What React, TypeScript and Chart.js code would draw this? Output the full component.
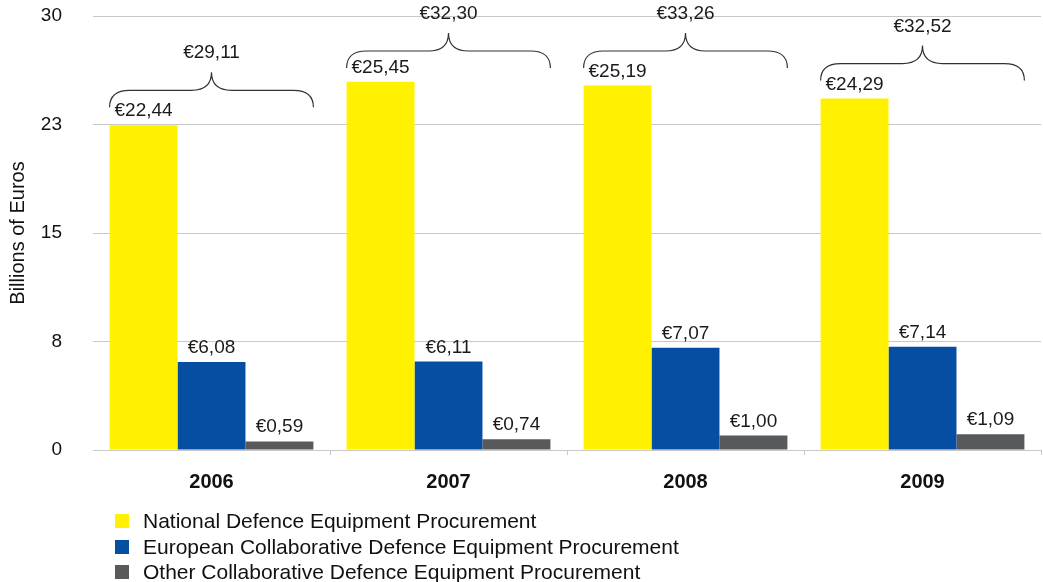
import React, { useEffect, useRef } from "react";
import { Chart, registerables } from "chart.js";

Chart.register(...registerables);

const categories = ["2006", "2007", "2008", "2009"];
const nationalValues = [22.44, 25.45, 25.19, 24.29];
const europeanValues = [6.08, 6.11, 7.07, 7.14];
const otherValues = [0.59, 0.74, 1.0, 1.09];
const seriesNames = [
  "National Defence Equipment Procurement",
  "European Collaborative Defence Equipment Procurement",
  "Other Collaborative Defence Equipment Procurement",
];
const seriesColors = ["#FFF100", "#064EA1", "#58595B"];
const yTickValues = [0, 7.5, 15, 22.5, 30];

const FONT = "'Liberation Sans', Arial, Helvetica, sans-serif";
const fmt = (v: number) => "€" + v.toFixed(2).replace(".", ",");

const labelsPlugin = {
  id: "valueLabels",
  afterDatasetsDraw(chart: any) {
    const ctx = chart.ctx;
    ctx.save();
    ctx.font = `19px ${FONT}`;
    ctx.fillStyle = "#1a1a1a";
    ctx.textAlign = "center";
    ctx.textBaseline = "alphabetic";
    chart.data.datasets.forEach((ds: any, di: number) => {
      const meta = chart.getDatasetMeta(di);
      meta.data.forEach((bar: any, i: number) => {
        ctx.fillText(fmt(ds.data[i]), bar.x, bar.y - 9);
      });
    });

    // braces with totals
    const m0 = chart.getDatasetMeta(0);
    const m2 = chart.getDatasetMeta(2);
    const top = chart.chartArea.top;
    ctx.strokeStyle = "#333";
    ctx.lineWidth = 1.2;
    categories.forEach((_, i) => {
      const b0 = m0.data[i];
      const b2 = m2.data[i];
      const x0 = b0.x - b0.width / 2;
      const x1 = b2.x + b2.width / 2;
      const xm = (x0 + x1) / 2;
      const yE = Math.max(b0.y - 18, top + 52);
      const yH = yE - 17;
      const yT = yH - 18;
      const r = 20;
      ctx.beginPath();
      ctx.moveTo(x0, yE);
      ctx.quadraticCurveTo(x0, yH, x0 + r, yH);
      ctx.lineTo(xm - r, yH);
      ctx.quadraticCurveTo(xm, yH, xm, yT);
      ctx.quadraticCurveTo(xm, yH, xm + r, yH);
      ctx.lineTo(x1 - r, yH);
      ctx.quadraticCurveTo(x1, yH, x1, yE);
      ctx.stroke();
      const total = nationalValues[i] + europeanValues[i] + otherValues[i];
      ctx.fillText(fmt(total), xm, yT - 14);
    });
    ctx.restore();
  },
  afterDraw(chart: any) {
    const ctx = chart.ctx;
    ctx.save();
    ctx.font = `21px ${FONT}`;
    ctx.textAlign = "left";
    ctx.textBaseline = "middle";
    const rows = [521, 547, 572];
    seriesNames.forEach((name, i) => {
      ctx.fillStyle = seriesColors[i];
      ctx.fillRect(115, rows[i] - 7, 14, 14);
      ctx.fillStyle = "#111";
      ctx.fillText(name, 143, rows[i] + 1);
    });
    ctx.restore();
  },
};

export default function App() {
  const ref = useRef<HTMLCanvasElement>(null);
  useEffect(() => {
    if (!ref.current) return;
    const chart = new Chart(ref.current, {
      type: "bar",
      data: {
        labels: categories,
        datasets: [
          { label: seriesNames[0], data: nationalValues, backgroundColor: seriesColors[0] },
          { label: seriesNames[1], data: europeanValues, backgroundColor: seriesColors[1] },
          { label: seriesNames[2], data: otherValues, backgroundColor: seriesColors[2] },
        ],
      },
      options: {
        animation: false,
        responsive: true,
        maintainAspectRatio: false,
        layout: { padding: { top: 16, right: 2, bottom: 82, left: 0 } },
        datasets: { bar: { categoryPercentage: 0.86, barPercentage: 1 } },
        plugins: { legend: { display: false }, tooltip: { enabled: false } },
        scales: {
          x: {
            grid: {
              display: true,
              drawOnChartArea: false,
              drawTicks: true,
              tickLength: 5,
              color: (c: any) =>
                c.index === 0 || c.index >= categories.length ? "rgba(0,0,0,0)" : "#c8c8c8",
            },
            border: { display: true, color: "#c8c8c8" },
            ticks: {
              font: { family: FONT, size: 20, weight: "bold" },
              color: "#111",
              padding: 15,
            },
            afterFit: (s: any) => {
              s.height = 50;
            },
          },
          y: {
            min: 0,
            max: 30,
            afterBuildTicks: (s: any) => {
              s.ticks = yTickValues.map((v) => ({ value: v }));
            },
            grid: {
              color: "#c8c8c8",
              drawTicks: true,
              tickLength: 31,
              tickColor: "rgba(0,0,0,0)",
            },
            border: { display: false },
            ticks: {
              font: { family: FONT, size: 19 },
              color: "#111",
              padding: 0,
              callback: (v: any) => String(Math.round(Number(v))),
            },
            title: {
              display: true,
              text: "Billions of Euros",
              font: { family: FONT, size: 20 },
              color: "#111",
              padding: { top: 6, bottom: 0 },
            },
            afterFit: (s: any) => {
              s.width = 93;
            },
          },
        },
      },
      plugins: [labelsPlugin],
    });
    return () => chart.destroy();
  }, []);
  return (
    <div style={{ position: "fixed", left: 0, top: 0, width: 1043, height: 582, background: "#fff" }}>
      <canvas ref={ref} />
    </div>
  );
}
